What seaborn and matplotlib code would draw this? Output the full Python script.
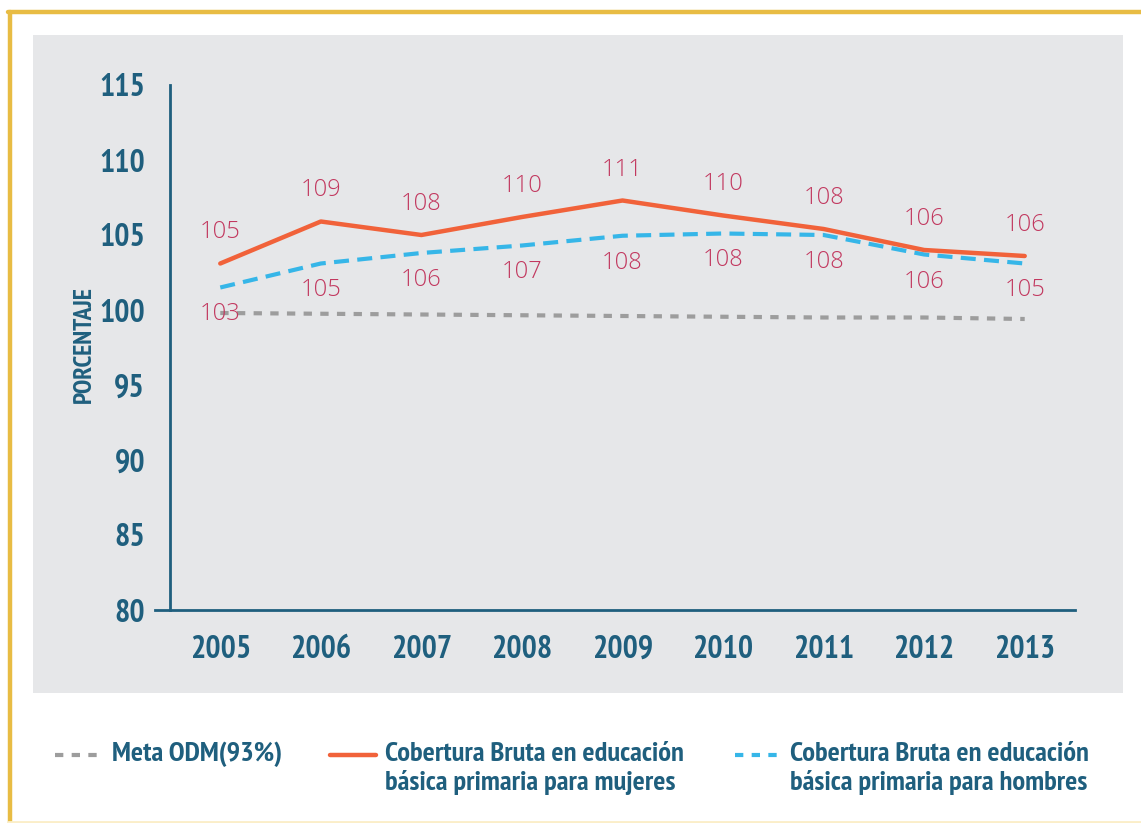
import matplotlib
matplotlib.use("Agg")
import matplotlib.pyplot as plt
from matplotlib.lines import Line2D
from matplotlib.patches import Rectangle
import seaborn as sns
import pandas as pd
import numpy as np

# ---- data ----
years = ["2005", "2006", "2007", "2008", "2009", "2010", "2011", "2012", "2013"]
mujeres = [103.1, 105.9, 105.0, 106.2, 107.3, 106.3, 105.4, 104.0, 103.6]
hombres = [101.5, 103.1, 103.8, 104.3, 104.95, 105.1, 105.0, 103.7, 103.1]
meta = [99.8, 99.75, 99.7, 99.65, 99.6, 99.55, 99.5, 99.5, 99.4]
labels_mujeres = [105, 109, 108, 110, 111, 110, 108, 106, 106]
labels_hombres = [103, 105, 106, 107, 108, 108, 108, 106, 105]
yticks = [80, 85, 90, 95, 100, 105, 110, 115]

legend_labels = ["Meta ODM(93%)",
                 "Cobertura Bruta en educación\nbásica primaria para mujeres",
                 "Cobertura Bruta en educación\nbásica primaria para hombres"]

sns.set_theme(style="white")
COND = ["PT Sans Narrow", "DejaVu Sans"]
plt.rcParams["font.family"] = COND
NUMF = ["Open Sans", "DejaVu Sans"]

TEAL = "#1f5f7e"
ORANGE = "#f1623a"
BLUE = "#36b6e8"
GREY = "#9d9d9d"
LABEL = "#c2385f"
PANEL = "#e6e7e9"
YELLOW = "#e8bc44"

W, H = 1141, 823
fig = plt.figure(figsize=(W / 100, H / 100), dpi=100)
fig.patch.set_facecolor("white")

# panel & frame
fig.add_artist(Rectangle((33 / W, 1 - 693 / H), (1123 - 33) / W, (693 - 35) / H,
                         transform=fig.transFigure, facecolor=PANEL, edgecolor="none", zorder=0))
fig.add_artist(Line2D([8 / W, 1], [1 - 12 / H, 1 - 12 / H], transform=fig.transFigure,
                      color=YELLOW, lw=3.2, zorder=1))
fig.add_artist(Line2D([10 / W, 10 / W], [0, 1 - 12 / H], transform=fig.transFigure,
                      color=YELLOW, lw=3.2, zorder=1))
fig.add_artist(Line2D([8 / W, 1], [1.5 / H, 1.5 / H], transform=fig.transFigure,
                      color="#fbeec8", lw=2, zorder=1))

ax = fig.add_axes([170 / W, 1 - 610 / H, (1075 - 170) / W, (610 - 85) / H])
ax.set_facecolor("none")

df = pd.DataFrame({"x": np.arange(len(years)), "mujeres": mujeres,
                   "hombres": hombres, "meta": meta})

sns.lineplot(data=df, x="x", y="meta", ax=ax, color=GREY, lw=3.0,
             linestyle=(0, (2.0, 2.0)), zorder=2)
sns.lineplot(data=df, x="x", y="hombres", ax=ax, color=BLUE, lw=3.0,
             linestyle=(0, (3.6, 2.0)), zorder=3)
sns.lineplot(data=df, x="x", y="mujeres", ax=ax, color=ORANGE, lw=3.2,
             zorder=4)

for i, (v, lab) in enumerate(zip(mujeres, labels_mujeres)):
    ax.annotate(str(lab), (i, v), xytext=(0, 31), textcoords="offset pixels",
                ha="center", va="center", color=LABEL, fontsize=17,
                family=NUMF, fontweight="light", zorder=5)
for i, (v, lab) in enumerate(zip(hombres, labels_hombres)):
    ax.annotate(str(lab), (i, v), xytext=(0, -27), textcoords="offset pixels",
                ha="center", va="center", color=LABEL, fontsize=17,
                family=NUMF, fontweight="light", zorder=5)

ax.set_xlim(-0.5, 8.5)
ax.set_ylim(80, 115)
ax.set_yticks(yticks)
ax.set_yticklabels([str(t) for t in yticks], fontsize=23, fontweight="bold", color=TEAL)
ax.set_xticks(np.arange(-0.5, 9.0, 1.0))
ax.set_xticklabels([])
ax.set_xticks(np.arange(len(years)), minor=True)
ax.set_xticklabels(years, minor=True, fontsize=23, fontweight="bold", color=TEAL)
ax.tick_params(axis="x", which="major", direction="out", length=8, width=2, color=TEAL)
ax.tick_params(axis="x", which="minor", length=0, pad=18)
ax.tick_params(axis="y", direction="out", length=8, width=2, color=TEAL, pad=10)
ax.set_xlabel("")
ax.set_ylabel("PORCENTAJE", fontsize=18.5, fontweight="bold", color=TEAL)
ax.yaxis.set_label_coords((96 - 170) / (1075 - 170), (610 - 345) / (610 - 85))
for s in ["top", "right"]:
    ax.spines[s].set_visible(False)
for s in ["left", "bottom"]:
    ax.spines[s].set_color(TEAL)
    ax.spines[s].set_linewidth(2)
ax.spines["bottom"].set_bounds(-0.65, 8.5)
ax.grid(False)

# legend drawn as sample lines + text in figure coordinates
styles = [dict(color=GREY, lw=3.0, linestyle=(0, (2.0, 2.0))),
          dict(color=ORANGE, lw=3.2),
          dict(color=BLUE, lw=3.0, linestyle=(0, (2.0, 2.0)))]
line_x = [(55, 105), (330, 376), (735, 781)]
text_x = [112, 385, 790]
ycen = 1 - 755 / H
for st, lab, (a, b), tx in zip(styles, legend_labels, line_x, text_x):
    fig.add_artist(Line2D([a / W, b / W], [ycen, ycen], transform=fig.transFigure, **st))
    fig.text(tx / W, 1 - 742 / H, lab, ha="left", va="top", fontsize=20.5,
             fontweight="bold", color=TEAL, linespacing=1.22)

fig.savefig("out.png", dpi=100, facecolor="white")
